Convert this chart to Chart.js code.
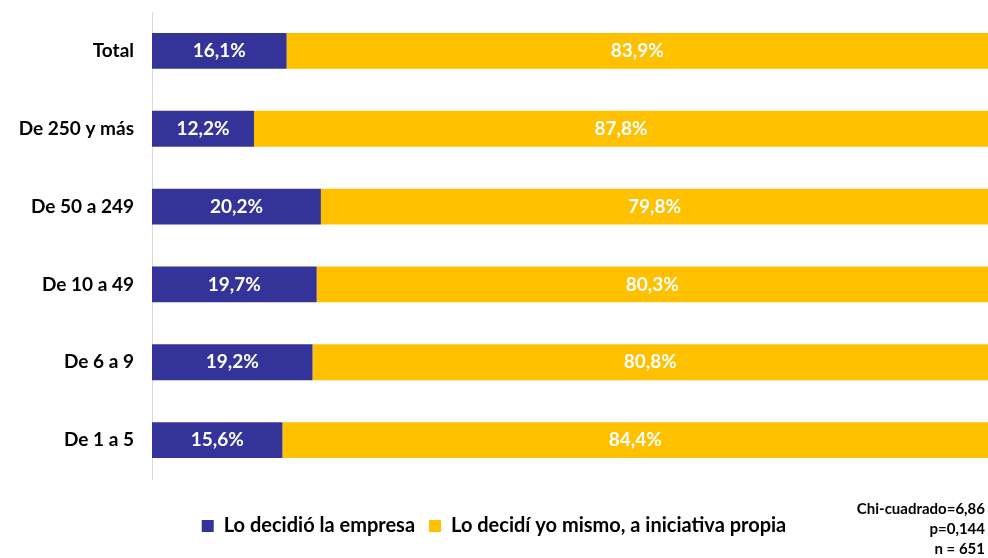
<!DOCTYPE html>
<html>
<head>
<meta charset="utf-8">
<script src="https://cdn.jsdelivr.net/npm/chart.js@4/dist/chart.umd.min.js"></script>
<style>
  html, body { margin: 0; padding: 0; background: #fff; }
  #wrap { width: 988px; height: 558px; }
</style>
</head>
<body>
<div id="wrap"><canvas id="chart"></canvas></div>
<script>
// categories, top to bottom
const categories = ['Total', 'De 250 y más', 'De 50 a 249', 'De 10 a 49', 'De 6 a 9', 'De 1 a 5'];
const empresa = [16.1, 12.2, 20.2, 19.7, 19.2, 15.6];
const propia = [83.9, 87.8, 79.8, 80.3, 80.8, 84.4];
const seriesNames = ['Lo decidió la empresa', 'Lo decidí yo mismo, a iniciativa propia'];
const noteLines = ['Chi-cuadrado=6,86', 'p=0,144', 'n = 651'];

const FONT = 'Lato, "Open Sans", sans-serif';

// white % labels in the middle of each segment
const valueLabels = {
  id: 'valueLabels',
  afterDatasetsDraw(chart) {
    const ctx = chart.ctx;
    ctx.save();
    ctx.font = 'bold 19px ' + FONT;
    ctx.fillStyle = '#ffffff';
    ctx.textAlign = 'center';
    ctx.textBaseline = 'middle';
    chart.data.datasets.forEach((ds, i) => {
      chart.getDatasetMeta(i).data.forEach((bar, j) => {
        const p = bar.getCenterPoint();
        ctx.fillText(ds.data[j].toFixed(1).replace('.', ',') + '%', p.x, p.y);
      });
    });
    ctx.restore();
  }
};

// stats note, bottom right
const statsNote = {
  id: 'statsNote',
  afterDraw(chart) {
    const ctx = chart.ctx;
    ctx.save();
    ctx.font = 'bold 15px ' + FONT;
    ctx.fillStyle = '#000000';
    ctx.textAlign = 'right';
    ctx.textBaseline = 'middle';
    noteLines.forEach((t, i) => ctx.fillText(t, 985, 509 + i * 20));
    ctx.restore();
  }
};

const data = {
  labels: categories,
  datasets: [
    { label: seriesNames[0], data: empresa, backgroundColor: '#333399' },
    { label: seriesNames[1], data: propia, backgroundColor: '#FFC000' }
  ]
};

const config = {
  type: 'bar',
  data: data,
  options: {
    indexAxis: 'y',
    responsive: true,
    maintainAspectRatio: false,
    animation: false,
    layout: { padding: { top: 12, right: 0, bottom: 12, left: 0 } },
    datasets: { bar: { categoryPercentage: 1, barPercentage: 0.46 } },
    scales: {
      x: {
        stacked: true,
        min: 0,
        max: 100,
        ticks: { display: false },
        grid: { display: false },
        border: { display: false },
        afterFit(axis) { axis.height = 23; }
      },
      y: {
        stacked: true,
        grid: { display: false },
        border: { color: '#d9d9d9', width: 1 },
        ticks: { color: '#000', padding: 10, font: { family: FONT, size: 19, weight: 'bold' } },
        afterFit(axis) {
          axis.width = 152;
          axis.paddingTop = 0;
          axis.paddingBottom = 0;
        }
      }
    },
    plugins: {
      legend: {
        position: 'bottom',
        labels: {
          color: '#000',
          boxWidth: 12,
          boxHeight: 12,
          padding: 14,
          font: { family: FONT, size: 20, weight: 'bold' }
        }
      },
      tooltip: { enabled: false }
    }
  },
  plugins: [valueLabels, statsNote]
};

const chart = new Chart(document.getElementById('chart'), config);
</script>
</body>
</html>
